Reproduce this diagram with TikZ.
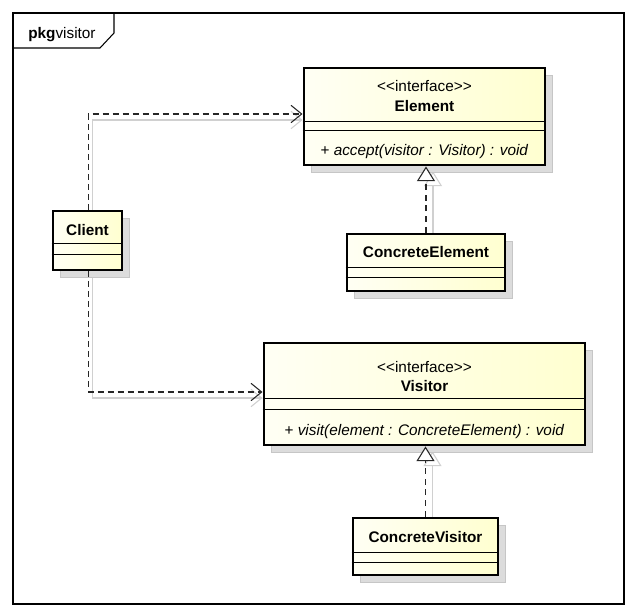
\documentclass[tikz,border=0pt]{standalone}
\usepackage{fontspec}
\setmainfont{Liberation Sans}
\usetikzlibrary{arrows.meta,calc,shadows,backgrounds}
\definecolor{boxA}{RGB}{255,255,244}
\definecolor{boxB}{RGB}{255,255,208}
\definecolor{shad}{RGB}{220,220,220}
\definecolor{lshad}{RGB}{208,208,208}
\tikzset{
 classbox/.style={draw=black, line width=2.2pt, left color=boxA, right color=boxB, inner sep=0pt,
   general shadow={fill=shad, draw=gray!45, line width=0.5pt, shadow xshift=5.5pt, shadow yshift=-5.5pt}},
 sepline/.style={line width=0.75pt},
 dep/.style={dash pattern=on 4.5pt off 3pt, line width=0.8pt, draw=black!85,
   -{Straight Barb[length=8pt,width=13pt,line width=0.8pt]}},
 depshadow/.style={line width=0.8pt, draw=lshad,
   -{Straight Barb[length=8pt,width=13pt,line width=0.8pt]}},
 real/.style={dash pattern=on 4.5pt off 3.5pt, line width=0.8pt, draw=black!85,
   -{Triangle[open,length=11pt,width=13.5pt,line width=0.8pt,fill=white]}},
 realshadow/.style={line width=0.8pt, draw=lshad,
   -{Triangle[open,length=11pt,width=13.5pt,line width=0.8pt]}},
 txt/.style={font=\fontsize{11.5}{13}\selectfont, inner sep=0pt, anchor=base},
 frameline/.style={line width=0.8pt},
}
\begin{document}
\begin{tikzpicture}[x=0.75pt,y=-0.75pt]
\useasboundingbox (0,0) rectangle (637,611);
% frame
\draw[frameline] (13,13) rectangle (624,604);
\draw[frameline] (13,48) -- (100,48) -- (114,33) -- (114,13);
\node[txt, anchor=base west] (pkg) at (28,38) {\textbf{pkg}visitor};

% boxes
\node[classbox, minimum width=180.75pt, minimum height=72.75pt] (element) at (424.5,116.5) {};
\node[classbox, minimum width=51.75pt, minimum height=44.25pt] (client) at (87.5,240.5) {};
\node[classbox, minimum width=118.5pt, minimum height=42.75pt] (ce) at (426,262.5) {};
\node[classbox, minimum width=240.75pt, minimum height=76.5pt] (visitor) at (424.5,394) {};
\node[classbox, minimum width=108.75pt, minimum height=42.75pt] (cv) at (425.5,546.5) {};

% compartments
\draw[sepline] (element.west |- 0,121) -- (element.east |- 0,121);
\draw[sepline] (element.west |- 0,130) -- (element.east |- 0,130);
\draw[sepline] (client.west |- 0,243) -- (client.east |- 0,243);
\draw[sepline] (client.west |- 0,254) -- (client.east |- 0,254);
\draw[sepline] (ce.west |- 0,267) -- (ce.east |- 0,267);
\draw[sepline] (ce.west |- 0,277) -- (ce.east |- 0,277);
\draw[sepline] (visitor.west |- 0,398) -- (visitor.east |- 0,398);
\draw[sepline] (visitor.west |- 0,409) -- (visitor.east |- 0,409);
\draw[sepline] (cv.west |- 0,552) -- (cv.east |- 0,552);
\draw[sepline] (cv.west |- 0,562) -- (cv.east |- 0,562);

% texts
\node[txt] (elst) at (424.5,91) {<{}<interface>{}>};
\node[txt] (elname) at (424.5,111) {\textbf{Element}};
\node[txt] (elop) at (424.5,155) {+ \textit{accept(visitor : Visitor) : void}};
\node[txt] (clname) at (87.5,235) {\textbf{Client}};
\node[txt] (cename) at (426,257) {\textbf{ConcreteElement}};
\node[txt] (vist) at (424.5,372) {<{}<interface>{}>};
\node[txt] (viname) at (424.5,391) {\textbf{Visitor}};
\node[txt] (viop) at (424.5,435) {+ \textit{visit(element : ConcreteElement) : void}};
\node[txt] (cvname) at (425.5,542) {\textbf{ConcreteVisitor}};

% connector shadows
\begin{scope}[on background layer]
\draw[depshadow] ([shift={(5,6)}]client.north) |- ([shift={(0,6)}]element.west |- 0,114);
\draw[depshadow] ([shift={(5,6)}]client.south) |- ([shift={(0,6)}]visitor.west |- 0,392);
\draw[realshadow] ([shift={(7,5)}]ce.north) -- ([shift={(7,5)}]ce.north |- element.south);
\draw[realshadow] ([shift={(7,5)}]cv.north) -- ([shift={(7,5)}]cv.north |- visitor.south);
\end{scope}

% connectors
\draw[dep] ([xshift=0.4pt]client.north) |- (element.west |- 0,114);
\draw[dep] ([xshift=0.4pt]client.south) |- (visitor.west |- 0,392);
\draw[real] (ce.north) -- (ce.north |- element.south);
\draw[real] (cv.north) -- (cv.north |- visitor.south);
\end{tikzpicture}
\end{document}
